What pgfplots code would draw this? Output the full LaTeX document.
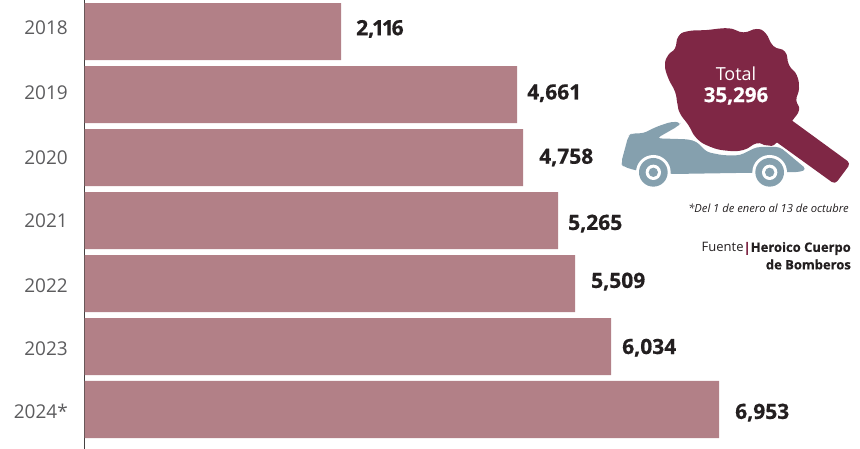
\documentclass[border=0pt]{standalone}
\usepackage{fontspec}
\setmainfont[BoldFeatures={FakeBold=0.6}]{Open Sans}
\usepackage{pgfplots}
\pgfplotsset{compat=1.18}
\definecolor{barc}{HTML}{B28087}
\definecolor{wine}{HTML}{7F2745}
\definecolor{carc}{HTML}{85A0AE}
\definecolor{labc}{HTML}{5C5C5E}
\definecolor{numc}{HTML}{231F20}
\newcommand{\tk}{\kern-2.2pt}
% bar lengths are read from the picture (the drawn bars are not strictly proportional)
\begin{document}
\begin{tikzpicture}
\path[use as bounding box] (0,0) rectangle (860pt,449pt);
\begin{axis}[
  at={(84.5pt,0pt)}, anchor=south west, scale only axis,
  width=775.5pt, height=449pt,
  xmin=0, xmax=775.5, ymin=-0.5, ymax=6.627, y dir=reverse,
  axis x line=none, axis y line=left, axis line style={draw=numc!85,line width=1.1pt,-},
  ytick={-0.055,0.97,2.0,3.01,4.03,5.03,6.03},
  yticklabels={2018,2019,2020,2021,2022,2023,2024*},
  major tick length=0pt,
  y tick label style={anchor=east,inner sep=0pt,xshift=-16.5pt,font=\fontsize{19}{22}\selectfont,text=labc},
  clip=false]
\addplot[xbar, bar shift=0pt, bar width=57pt, fill=barc, draw=none] table[x=len,y=idx] {
idx len
0 256.5
1 432.5
2 438.5
3 473.5
4 490.5
5 526.5
6 634.5
};
\addplot[draw=none, mark=none, nodes near coords, point meta=explicit symbolic,
  nodes near coords style={anchor=west,inner sep=0pt,font=\fontsize{21}{24}\selectfont\bfseries,text=numc}]
  table[x=labx,y=laby,meta=val] {
laby labx val
-0.04 271.5 2,\tk1\tk1\tk6
0.98 442.5 4,661
2.0 454.5 4,758
3.05 483.5 5,265
3.97 506.5 5,509
5.02 537.5 6,034
6.05 650.5 6,953
};
\end{axis}
\begin{scope}[shift={(600pt,449pt)},x=0.33333pt,y=-0.33333pt]
  % car
  \fill[carc,rounded corners=4pt] (63,490) -- (85,408) -- (95,400) -- (130,400) -- (170,380) -- (215,365) -- (243,367) -- (235,378) -- (170,415) -- (265,418) -- (290,425) -- (320,456) -- (370,466) -- (420,466) -- (470,441) -- (540,441) -- (620,508) -- (600,516) -- (220,522) -- (110,512) -- (70,500) -- cycle;
  \fill[white] (160,517) circle (52) (509,517) circle (52);
  \fill[carc] (160,517) circle (43) (509,517) circle (43);
  \fill[white] (160,517) circle (23) (509,517) circle (23);
  \fill[carc] (160,517) circle (14) (509,517) circle (14);
  % white halo under the glass
  \draw[white,line width=2.5pt,line join=round] (290,415) -- (330,440) -- (380,450) -- (430,450) -- (470,430) -- (530,430) -- (640,505);
  % magnifier
  \fill[wine,rounded corners=4pt] (560,350) -- (752,490) -- (705,553) -- (500,405) -- cycle;
  \fill[wine] plot[smooth cycle,tension=0.8] coordinates {(262,94) (320,90) (385,85) (430,97) (470,87) (497,100) (520,138) (555,155) (567,195) (590,225) (597,265) (589,300) (597,330) (575,365) (530,428) (500,436) (470,430) (430,450) (380,452) (330,440) (290,415) (265,375) (240,340) (232,310) (225,275) (205,235) (195,195) (205,165) (225,145) (235,110)};
\end{scope}
\node[text=white,font=\fontsize{18}{20}\selectfont] at (736pt,375.5pt) {Total};
\node[text=white,font=\fontsize{20.5}{22}\selectfont\bfseries] at (736pt,353pt) {35,296};
\node[anchor=east,inner sep=0pt,text=numc,font=\fontsize{11.2}{14}\selectfont\itshape] at (849pt,241pt) {*Del 1 de enero al 13 de octubre};
\node[anchor=east,inner sep=0pt,text=numc,font=\fontsize{13}{15}\selectfont] at (851pt,200.5pt) {Fuente\textcolor{wine}{\textbf{|}}\textbf{Heroico Cuerpo}};
\node[anchor=east,inner sep=0pt,text=numc,font=\fontsize{13}{15}\selectfont\bfseries] at (851pt,184.5pt) {de Bomberos};
\end{tikzpicture}
\end{document}
